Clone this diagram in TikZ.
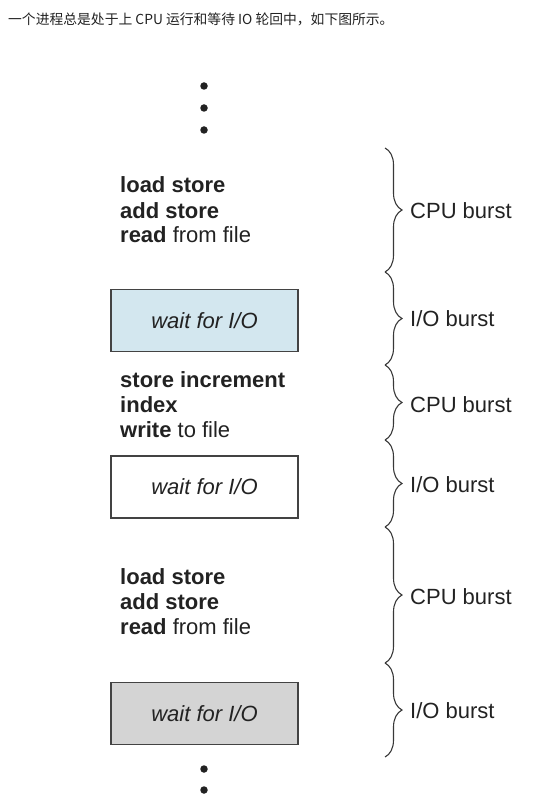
\documentclass[tikz,border=0pt]{standalone}
\usepackage{fontspec}
\setmainfont{Liberation Sans}
\newfontfamily\cjk{Noto Sans CJK SC}
\usetikzlibrary{decorations.pathreplacing}
\definecolor{iobluefill}{HTML}{D3E7EF}
\definecolor{iograyfill}{HTML}{D4D4D4}
\definecolor{inkgray}{HTML}{222222}

\begin{document}
\begin{tikzpicture}[x=1pt, y=-1pt,
  code/.style={anchor=west, inner sep=0pt, text=inkgray, font=\fontsize{22}{25}\selectfont},
  waitbox/.style={draw=inkgray!85, line width=1.2pt, minimum width=187pt, minimum height=62pt, inner sep=0pt, text=inkgray, font=\fontsize{22}{25}\selectfont\itshape},
  burst/.style={anchor=west, inner sep=0pt, text=inkgray, font=\fontsize{22}{25}\selectfont},
  bracket/.style={draw=inkgray!90, line width=1.1pt, decorate, decoration={brace, amplitude=17pt}},
  bigdot/.style={circle, fill=inkgray, inner sep=0pt, minimum size=7.5pt}]
\useasboundingbox (0,0) rectangle (544,794);

\node[anchor=west, inner sep=0pt, text=inkgray, font=\cjk\fontsize{13.8}{16}\selectfont] (caption) at (8, 19) {一个进程总是处于上 CPU 运行和等待 IO 轮回中，如下图所示。};

\node[bigdot] (top dot 1) at (204, 86) {};
\node[bigdot] (top dot 2) at (204, 108) {};
\node[bigdot] (top dot 3) at (204, 130) {};

\node[code] (first cpu code) at (120, 213) {\begin{tabular}{@{}l@{}}
\textbf{load store} \\
\textbf{add store} \\
\textbf{read} from file
\end{tabular}};

\node[waitbox, fill=iobluefill] (first io wait) at (204.5, 320.5) {wait for I/O};

\node[code] (second cpu code) at (120, 407) {\begin{tabular}{@{}l@{}}
\textbf{store increment} \\
\textbf{index} \\
\textbf{write} to file
\end{tabular}};

\node[waitbox, fill=white] (second io wait) at (204.5, 487) {wait for I/O};

\node[code] (third cpu code) at (120, 604) {\begin{tabular}{@{}l@{}}
\textbf{load store} \\
\textbf{add store} \\
\textbf{read} from file
\end{tabular}};

\node[waitbox, fill=iograyfill] (third io wait) at (204.5, 713.5) {wait for I/O};

\node[bigdot] (bottom dot 1) at (204, 769) {};
\node[bigdot] (bottom dot 2) at (204, 790) {};

\coordinate (burst edge 0) at (385, 148);
\coordinate (burst edge 1) at (385, 272);
\coordinate (burst edge 2) at (385, 365);
\coordinate (burst edge 3) at (385, 440);
\coordinate (burst edge 4) at (385, 527);
\coordinate (burst edge 5) at (385, 663);
\coordinate (burst edge 6) at (385, 757);

\draw[bracket] (burst edge 0) -- (burst edge 1);
\draw[bracket] (burst edge 1) -- (burst edge 2);
\draw[bracket] (burst edge 2) -- (burst edge 3);
\draw[bracket] (burst edge 3) -- (burst edge 4);
\draw[bracket] (burst edge 4) -- (burst edge 5);
\draw[bracket] (burst edge 5) -- (burst edge 6);

\node[burst] (first cpu burst) at (410, 211) {CPU burst};
\node[burst] (first io burst) at (410, 319) {I/O burst};
\node[burst] (second cpu burst) at (410, 405) {CPU burst};
\node[burst] (second io burst) at (410, 485) {I/O burst};
\node[burst] (third cpu burst) at (410, 597) {CPU burst};
\node[burst] (third io burst) at (410, 711) {I/O burst};
\end{tikzpicture}
\end{document}
